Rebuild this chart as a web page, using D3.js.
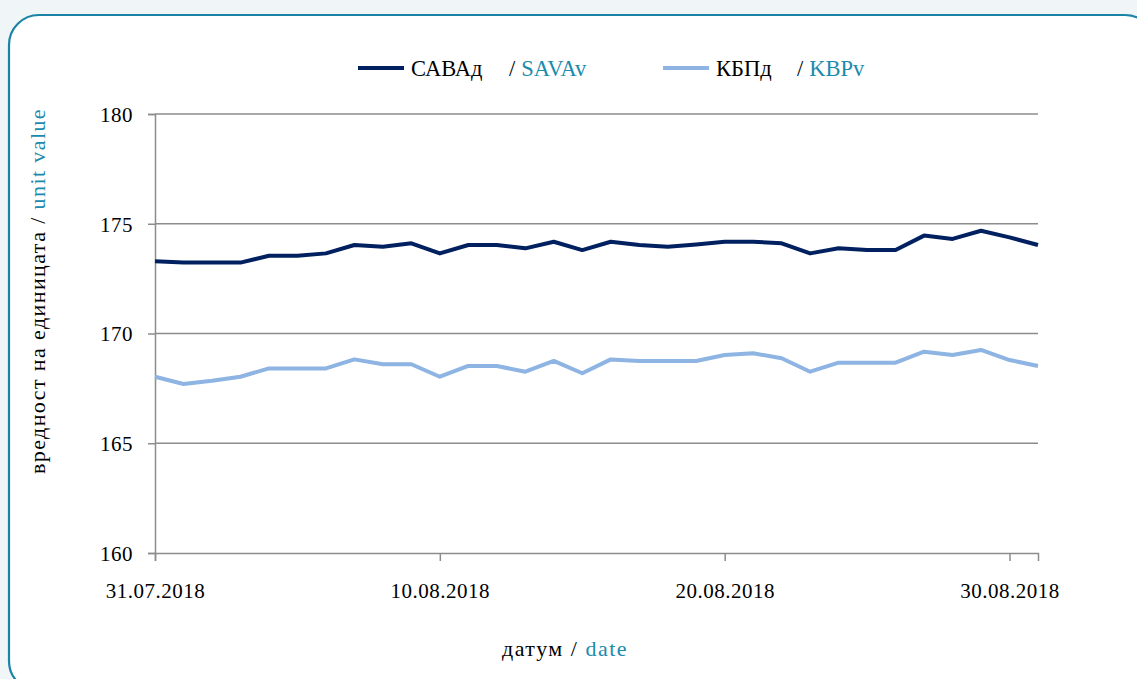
<!DOCTYPE html>
<html>
<head>
<meta charset="utf-8">
<script src="https://cdn.jsdelivr.net/npm/d3@7"></script>
<style>
    body { margin: 0; background: #f0f5f8; }
    svg { display: block; font-family: "Liberation Serif", serif; }
</style>
</head>
<body>
<svg id="chart" width="1137" height="679"></svg>
<script>
// dates on the x axis (one point per day)
const dates = [
    "2018-07-31", "2018-08-01", "2018-08-02", "2018-08-03", "2018-08-04", "2018-08-05",
    "2018-08-06", "2018-08-07", "2018-08-08", "2018-08-09", "2018-08-10", "2018-08-11",
    "2018-08-12", "2018-08-13", "2018-08-14", "2018-08-15", "2018-08-16", "2018-08-17",
    "2018-08-18", "2018-08-19", "2018-08-20", "2018-08-21", "2018-08-22", "2018-08-23",
    "2018-08-24", "2018-08-25", "2018-08-26", "2018-08-27", "2018-08-28", "2018-08-29",
    "2018-08-30", "2018-08-31"
];

// САВАд / SAVAv
const savaValues = [
    173.29, 173.23, 173.23, 173.23, 173.54, 173.54, 173.65, 174.03, 173.95, 174.11,
    173.65, 174.03, 174.03, 173.88, 174.18, 173.80, 174.18, 174.03, 173.95, 174.06,
    174.18, 174.18, 174.11, 173.65, 173.88, 173.80, 173.80, 174.46, 174.31, 174.68,
    174.38, 174.03
];

// КБПд / KBPv
const kbpValues = [
    168.03, 167.70, 167.85, 168.03, 168.41, 168.41, 168.41, 168.82, 168.60, 168.60,
    168.03, 168.52, 168.52, 168.26, 168.75, 168.19, 168.82, 168.75, 168.75, 168.75,
    169.02, 169.10, 168.87, 168.26, 168.67, 168.67, 168.67, 169.17, 169.02, 169.25,
    168.79, 168.52
];

const yTicks = [160, 165, 170, 175, 180];
const xTickDates = ["2018-07-31", "2018-08-10", "2018-08-20", "2018-08-30"];

const seriesList = [
    {bg: "САВАд", en: "SAVAv", values: savaValues, color: "#002060"},
    {bg: "КБПд", en: "KBPv", values: kbpValues, color: "#8db4e2"}
];

const parseDate = d3.utcParse("%Y-%m-%d");
const fmtDate = d3.utcFormat("%d.%m.%Y");
const teal = "#1a8aad";
const gridColor = "#8c8c8c";

let svg = d3.select("#chart");

// rounded frame, running off the right and bottom edges
svg.append("rect")
    .attr("x", 9).attr("y", 15)
    .attr("width", 1146).attr("height", 676)
    .attr("rx", 30).attr("ry", 30)
    .attr("fill", "#ffffff")
    .attr("stroke", "#1a84a6")
    .attr("stroke-width", 2.2);

let padding = {top: 114, left: 155, right: 1038, bottom: 553};

let xScale = d3.scaleUtc()
    .domain(d3.extent(dates, parseDate))
    .range([padding.left, padding.right]);

let yScale = d3.scaleLinear()
    .domain([160, 180])
    .range([padding.bottom, padding.top]);

// horizontal grid
svg.append("g")
    .selectAll("line")
    .data(yTicks.filter(d => d > 160))
    .join("line")
    .attr("x1", padding.left)
    .attr("x2", padding.right)
    .attr("y1", d => yScale(d))
    .attr("y2", d => yScale(d))
    .attr("stroke", gridColor)
    .attr("stroke-width", 1.5);

// y axis
let yAxis = d3.axisLeft(yScale)
    .tickValues(yTicks)
    .tickSize(7)
    .tickPadding(15);
let yAxisG = svg.append("g")
    .attr("transform", "translate(" + padding.left + ",0)")
    .call(yAxis);

// x axis
let xAxis = d3.axisBottom(xScale)
    .tickValues(xTickDates.map(parseDate))
    .tickFormat(fmtDate)
    .tickSize(8)
    .tickPadding(22);
let xAxisG = svg.append("g")
    .attr("transform", "translate(0," + padding.bottom + ")")
    .call(xAxis);

[yAxisG, xAxisG].forEach(g => {
    g.select(".domain").attr("stroke", gridColor).attr("stroke-width", 1.5);
    g.selectAll(".tick line").attr("stroke", gridColor).attr("stroke-width", 1.5);
    g.selectAll(".tick text")
        .attr("fill", "#000")
        .style("font-family", "Liberation Serif, serif")
        .style("font-size", "21px")
        .style("letter-spacing", "0.5px");
});
yAxisG.selectAll(".tick text").attr("dy", "0.35em");

// series lines
let line = d3.line()
    .x((d, i) => xScale(parseDate(dates[i])))
    .y(d => yScale(d));

svg.append("g")
    .selectAll("path")
    .data(seriesList)
    .join("path")
    .attr("d", d => line(d.values))
    .attr("fill", "none")
    .attr("stroke", d => d.color)
    .attr("stroke-width", 4)
    .attr("stroke-linejoin", "round");

// legend
let legendPos = [{x: 358, slash: 509}, {x: 663, slash: 797}];
let legend = svg.append("g")
    .selectAll("g")
    .data(seriesList)
    .join("g")
    .attr("transform", (d, i) => "translate(" + legendPos[i].x + ",68)");

legend.append("line")
    .attr("x1", 0).attr("x2", 46)
    .attr("stroke", d => d.color)
    .attr("stroke-width", 4);

legend.append("text")
    .attr("x", 53)
    .attr("dy", "0.35em")
    .style("font-size", "22.5px")
    .attr("fill", "#000")
    .text(d => d.bg);

legend.append("text")
    .attr("x", (d, i) => legendPos[i].slash - legendPos[i].x)
    .attr("dy", "0.35em")
    .style("font-size", "22.5px")
    .attr("fill", "#000")
    .text("/")
    .append("tspan")
    .attr("dx", 6)
    .attr("fill", teal)
    .text(d => d.en);

// x axis title
svg.append("text")
    .attr("x", 565)
    .attr("y", 648)
    .attr("dy", "0.35em")
    .attr("text-anchor", "middle")
    .style("font-size", "22px")
    .style("letter-spacing", "1.5px")
    .attr("fill", "#000")
    .text("датум / ")
    .append("tspan")
    .attr("fill", teal)
    .text("date");

// y axis title
svg.append("text")
    .attr("transform", "translate(37,291) rotate(-90)")
    .attr("dy", "0.35em")
    .attr("text-anchor", "middle")
    .style("font-size", "22px")
    .style("letter-spacing", "1.4px")
    .attr("fill", "#000")
    .text("вредност на единицата / ")
    .append("tspan")
    .attr("fill", teal)
    .text("unit value");
</script>
</body>
</html>
